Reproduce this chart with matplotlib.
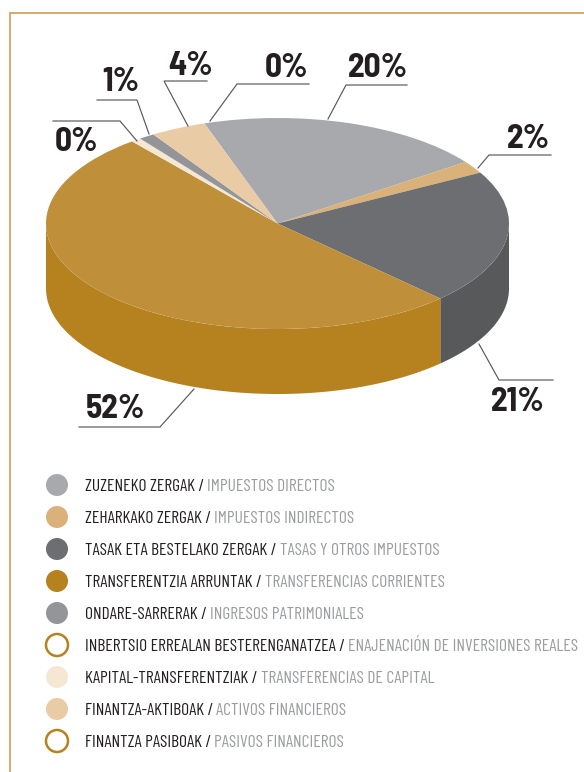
import numpy as np
import matplotlib
matplotlib.use("Agg")
import matplotlib.pyplot as plt
from matplotlib.patches import Circle
import matplotlib.font_manager as fm

W, H = 584, 772

# Data
wedge_names = ["Zuzeneko", "Zeharkako", "Tasak", "Transferentzia", "Kapital", "Ondare", "Finantza-aktiboak"]
wedge_values = [20.2, 1.9, 20.6, 51.6, 0.7, 1.1, 3.9]
wedge_colors = ["#a7a9ac", "#dbb17a", "#6d6e71", "#bf8f3a", "#f6e6d4", "#939598", "#e9cba6"]
wall_colors = ["#8c8e91", "#c49a60", "#58595b", "#b5821f", "#e0cdb8", "#7d7f82", "#d2b48e"]
start_clock_deg = -18.4

pct_labels = ["20%", "2%", "21%", "52%", "0%", "1%", "4%", "0%"]
pct_left = [348, 507, 491, 86, 55, 102, 168, 265]
pct_base = [77, 148, 411, 418, 151, 91, 75, 77]
leaders = [
    [(328, 119), (346, 85), (407, 85)],
    [(478, 168), (489, 155), (551, 155)],
    [(479, 344), (499, 380), (553, 380)],
    [(194, 389), (160, 427), (79, 427)],
    [(137, 141), (120, 121), (53, 121)],
    [(149, 134), (137, 100), (97, 100)],
    [(188, 126), (164, 81), (207, 81)],
    [(210, 121), (237, 84), (309, 84)],
]

legend_eu = ["ZUZENEKO ZERGAK /", "ZEHARKAKO ZERGAK /", "TASAK ETA BESTELAKO ZERGAK /",
             "TRANSFERENTZIA ARRUNTAK /", "ONDARE-SARRERAK /",
             "INBERTSIO ERREALAN BESTERENGANATZEA /", "KAPITAL-TRANSFERENTZIAK /",
             "FINANTZA-AKTIBOAK /", "FINANTZA PASIBOAK /"]
legend_es = ["IMPUESTOS DIRECTOS", "IMPUESTOS INDIRECTOS", "TASAS Y OTROS IMPUESTOS",
             "TRANSFERENCIAS CORRIENTES", "INGRESOS PATRIMONIALES",
             "ENAJENACIÓN DE INVERSIONES REALES", "TRANSFERENCIAS DE CAPITAL",
             "ACTIVOS FINANCIEROS", "PASIVOS FINANCIEROS"]
legend_fill = ["#a7a9ac", "#dbb17a", "#6d6e71", "#b5821f", "#939598", "none", "#f6e6d4", "#e9cba6", "none"]

# Fonts: prefer condensed faces if present
avail = {f.name for f in fm.fontManager.ttflist}
def pick(cands):
    for c in cands:
        if c in avail:
            return c
    return "DejaVu Sans"
NARROW = pick(["Barlow Condensed", "Roboto Condensed", "Sofia Sans Condensed", "Pathway Gothic One", "Roboto"])
HEAVY = pick(["Barlow Semi Condensed", "Roboto Condensed", "Roboto"])

# Layout
cx, cy, rx, ry, depth = 277.5, 223.5, 231.5, 105.5, 65.0

fig = plt.figure(figsize=(W / 100, H / 100), dpi=100, facecolor="white")

pie_ax = fig.add_axes([0, 0, 1, 1])
pie_ax.pie(wedge_values, colors=wedge_colors, startangle=90 - start_clock_deg,
           counterclock=False, radius=1, wedgeprops={"linewidth": 0})
pie_ax.set_aspect("auto")
pie_ax.set_xlim(-cx / rx, (W - cx) / rx)
pie_ax.set_ylim((cy - H) / ry, cy / ry)
pie_ax.axis("off")

edges = start_clock_deg + np.concatenate([[0], np.cumsum(wedge_values)]) * 3.6
d = depth / ry
for a1, a2, col in zip(edges[:-1], edges[1:], wall_colors):
    lo, hi = max(a1, 90), min(a2, 270)
    if hi <= lo:
        continue
    t = np.radians(np.linspace(lo, hi, 200))
    xs = np.concatenate([np.sin(t), np.sin(t)[::-1]])
    ys = np.concatenate([np.cos(t), np.cos(t)[::-1] - d])
    pie_ax.fill(xs, ys, color=col, lw=0, zorder=0.5)

ax = fig.add_axes([0, 0, 1, 1], facecolor="none")
ax.set_xlim(0, W)
ax.set_ylim(H, 0)
ax.axis("off")

ax.plot([10, 10, W], [H, 12.5, 12.5], color="#d2a55f", lw=1.3, solid_joinstyle="miter")

for pts in leaders:
    xs, ys = zip(*pts)
    ax.plot(xs, ys, color="#58595b", lw=0.85, solid_joinstyle="miter")

for s, x, y in zip(pct_labels, pct_left, pct_base):
    ax.text(x, y, s, family=HEAVY, weight="bold", fontsize=24, color="#231f20",
            ha="left", va="baseline")

renderer = fig.canvas.get_renderer()
for i, (eu, es, fc) in enumerate(zip(legend_eu, legend_es, legend_fill)):
    y = 485 + 32 * i
    if fc == "none":
        ax.add_patch(Circle((57, y), 11, facecolor="white", edgecolor="#b5821f", lw=1.8))
    else:
        ax.add_patch(Circle((57, y), 11, facecolor=fc, edgecolor="none"))
    t = ax.text(85, y + 6, eu, family=NARROW, fontsize=12.6, color="#231f20", ha="left", va="baseline")
    end = t.get_window_extent(renderer).x1
    ax.text(end + 3, y + 6, es, family=NARROW, fontsize=12.6, color="#9a9c9f", ha="left", va="baseline")

fig.savefig("out.png", dpi=100)
